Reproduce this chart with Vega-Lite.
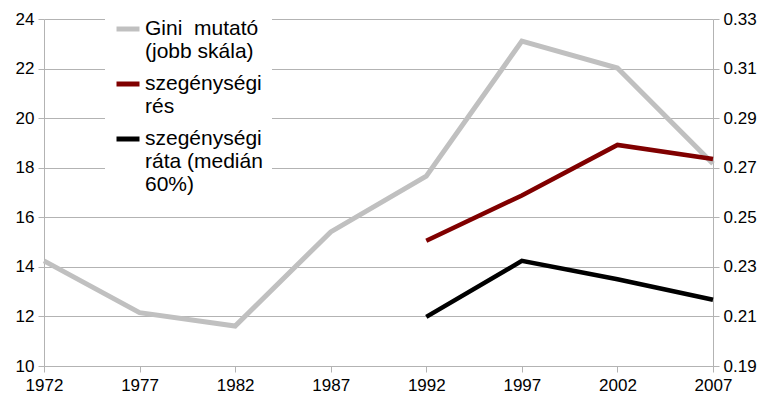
{
  "$schema": "https://vega.github.io/schema/vega-lite/v6.json",
  "autosize": "none",
  "padding": {"left": 44, "top": 19, "right": 54, "bottom": 35},
  "width": 669,
  "height": 347,
  "background": "white",
  "config": {
    "font": "Liberation Sans",
    "view": {"stroke": null},
    "axis": {
      "domainColor": "#b3b3b3",
      "gridColor": "#b3b3b3",
      "tickColor": "#b3b3b3",
      "labelColor": "#000000",
      "labelFontSize": 17,
      "tickSize": 6,
      "labelPadding": 4,
      "title": null
    }
  },
  "data": {
    "values": [
      {"year": 1972, "series": "Gini  mutató|(jobb skála)", "side": "right", "value": 0.2324},
      {"year": 1977, "series": "Gini  mutató|(jobb skála)", "side": "right", "value": 0.2115},
      {"year": 1982, "series": "Gini  mutató|(jobb skála)", "side": "right", "value": 0.2061},
      {"year": 1987, "series": "Gini  mutató|(jobb skála)", "side": "right", "value": 0.2441},
      {"year": 1992, "series": "Gini  mutató|(jobb skála)", "side": "right", "value": 0.2666},
      {"year": 1997, "series": "Gini  mutató|(jobb skála)", "side": "right", "value": 0.3211},
      {"year": 2002, "series": "Gini  mutató|(jobb skála)", "side": "right", "value": 0.3102},
      {"year": 2007, "series": "Gini  mutató|(jobb skála)", "side": "right", "value": 0.2716},
      {"year": 1992, "series": "szegénységi|rés", "side": "left", "value": 15.05},
      {"year": 1997, "series": "szegénységi|rés", "side": "left", "value": 16.88},
      {"year": 2002, "series": "szegénységi|rés", "side": "left", "value": 18.92},
      {"year": 2007, "series": "szegénységi|rés", "side": "left", "value": 18.35},
      {"year": 1992, "series": "szegénységi|ráta (medián|60%)", "side": "left", "value": 11.98},
      {"year": 1997, "series": "szegénységi|ráta (medián|60%)", "side": "left", "value": 14.24},
      {"year": 2002, "series": "szegénységi|ráta (medián|60%)", "side": "left", "value": 13.5},
      {"year": 2007, "series": "szegénységi|ráta (medián|60%)", "side": "left", "value": 12.67}
    ]
  },
  "encoding": {
    "x": {
      "field": "year",
      "type": "quantitative",
      "scale": {"domain": [1972, 2007], "nice": false, "zero": false},
      "axis": {
        "values": [1972, 1977, 1982, 1987, 1992, 1997, 2002, 2007],
        "format": "d",
        "grid": false,
        "labelFlush": false,
        "labelPadding": 5
      }
    },
    "color": {
      "field": "series",
      "type": "nominal",
      "scale": {
        "domain": ["Gini  mutató|(jobb skála)", "szegénységi|rés", "szegénységi|ráta (medián|60%)"],
        "range": ["#c0c0c0", "#800000", "#000000"]
      },
      "legend": {
        "title": null,
        "orient": "none",
        "legendX": 61,
        "legendY": -13,
        "fillColor": "white",
        "padding": 9,
        "symbolType": "stroke",
        "symbolSize": 529,
        "symbolStrokeWidth": 5,
        "labelFontSize": 21,
        "labelColor": "#000000",
        "labelOffset": 3,
        "labelLimit": 300,
        "rowPadding": 8,
        "labelExpr": "split(replace(datum.label, '  ', '\u00a0 '), '|')"
      }
    }
  },
  "layer": [
    {
      "transform": [{"filter": "datum.side == 'right'"}],
      "mark": {"type": "line", "strokeWidth": 5},
      "encoding": {
        "y": {
          "field": "value",
          "type": "quantitative",
          "scale": {"domain": [0.19, 0.33], "nice": false, "zero": false},
          "axis": {
            "orient": "right",
            "values": [0.19, 0.21, 0.23, 0.25, 0.27, 0.29, 0.31, 0.33],
            "format": ".2f",
            "grid": false
          }
        }
      }
    },
    {
      "transform": [{"filter": "datum.side == 'left'"}],
      "mark": {"type": "line", "strokeWidth": 4.5},
      "encoding": {
        "y": {
          "field": "value",
          "type": "quantitative",
          "scale": {"domain": [10, 24], "nice": false, "zero": false},
          "axis": {
            "orient": "left",
            "values": [10, 12, 14, 16, 18, 20, 22, 24],
            "grid": true
          }
        }
      }
    }
  ],
  "resolve": {"scale": {"y": "independent"}}
}
